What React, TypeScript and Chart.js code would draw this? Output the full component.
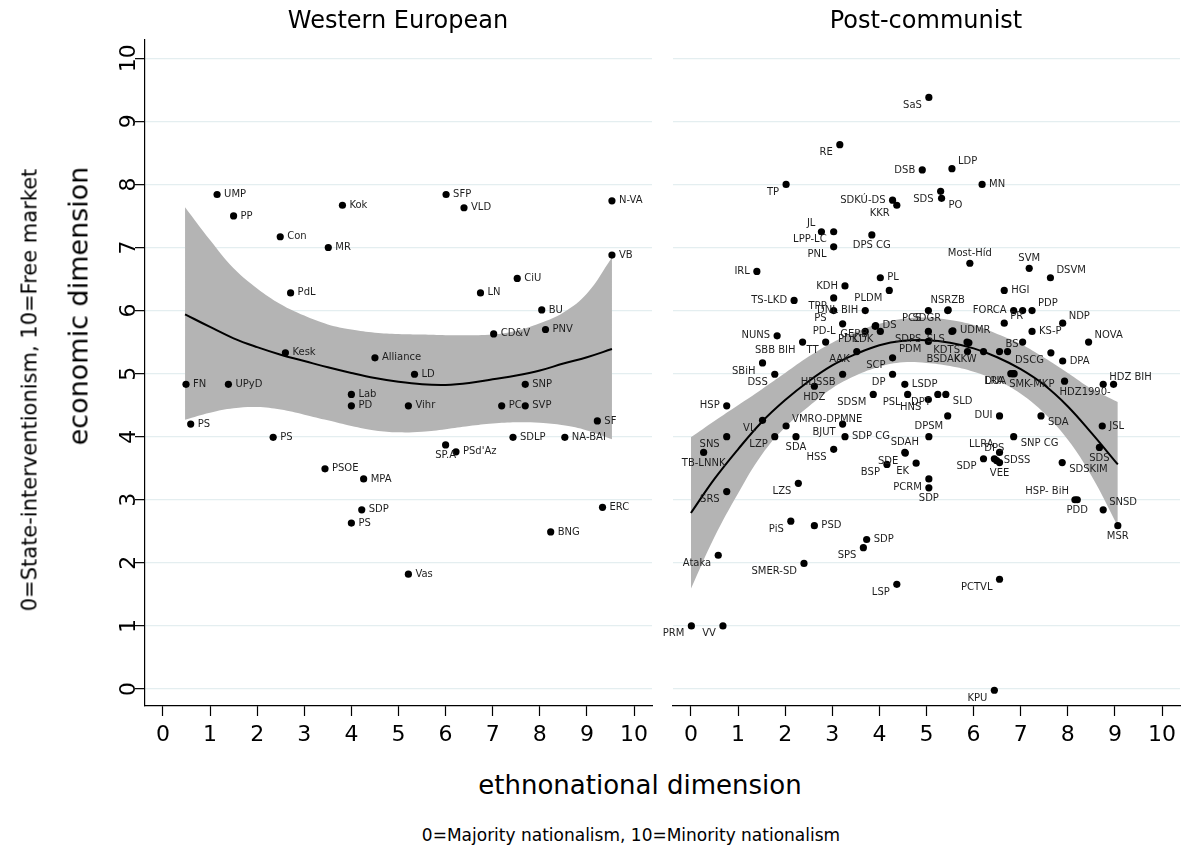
import React, { useEffect, useRef } from "react";
import { Chart, registerables } from "chart.js";

Chart.register(...registerables);

const FONT = "'DejaVu Sans', sans-serif";

// Axis ticks shared by both panels
const xTicks = [0, 1, 2, 3, 4, 5, 6, 7, 8, 9, 10];
const yTicks = [0, 1, 2, 3, 4, 5, 6, 7, 8, 9, 10];

// ---- Western European parties ----
const westNames = [
  "UMP", "PP", "Con", "Kok", "MR", "PdL", "Kesk", "Alliance", "FN", "UPyD",
  "Lab", "PD", "PS", "PS", "PSOE", "MPA", "SDP", "PS", "Vihr", "PC",
  "SVP", "SF", "SDLP", "NA-BAI", "SP.A", "PSd'Az", "ERC", "BNG", "Vas", "SFP",
  "VLD", "N-VA", "VB", "CiU", "LN", "BU", "CD&V", "PNV", "LD", "SNP",
];
const westX = [
  1.15, 1.5, 2.49, 3.81, 3.51, 2.71, 2.6, 4.5, 0.49, 1.39,
  4.0, 4.0, 0.59, 2.34, 3.44, 4.26, 4.22, 4.0, 5.21, 7.19,
  7.69, 9.22, 7.43, 8.53, 6.0, 6.22, 9.33, 8.23, 5.21, 6.01,
  6.39, 9.53, 9.53, 7.52, 6.74, 8.04, 7.02, 8.12, 5.34, 7.69,
];
const westY = [
  7.84, 7.5, 7.17, 7.67, 7.0, 6.28, 5.33, 5.25, 4.83, 4.83,
  4.67, 4.49, 4.2, 3.99, 3.49, 3.33, 2.84, 2.63, 4.49, 4.49,
  4.49, 4.25, 3.99, 3.99, 3.87, 3.76, 2.88, 2.49, 1.82, 7.84,
  7.63, 7.74, 6.88, 6.51, 6.28, 6.01, 5.63, 5.7, 4.99, 4.83,
];
// clock position of each label relative to its marker
const westLabelPos = [
  3, 3, 3, 3, 3, 3, 3, 3, 3, 3,
  3, 3, 3, 3, 3, 3, 3, 3, 3, 3,
  3, 3, 3, 3, 6, 3, 3, 3, 3, 3,
  3, 3, 3, 3, 3, 3, 3, 3, 3, 3,
];

// quadratic fit with 95% band, Western European
const westFitX = [0.47, 1.0, 1.5, 2.0, 2.5, 3.0, 3.5, 4.0, 4.5, 5.0, 5.5, 6.0, 6.5, 7.0, 7.5, 8.0, 8.5, 9.0, 9.53];
const westFit = [5.94, 5.74, 5.56, 5.42, 5.3, 5.2, 5.1, 5.01, 4.93, 4.87, 4.83, 4.82, 4.85, 4.91, 4.97, 5.05, 5.16, 5.26, 5.39];
const westUpper = [7.64, 7.12, 6.67, 6.35, 6.1, 5.92, 5.78, 5.7, 5.65, 5.63, 5.62, 5.61, 5.61, 5.62, 5.68, 5.8, 5.97, 6.27, 6.84];
const westLower = [4.27, 4.38, 4.45, 4.47, 4.43, 4.35, 4.26, 4.17, 4.1, 4.07, 4.08, 4.12, 4.17, 4.21, 4.23, 4.22, 4.18, 4.1, 3.96];

// ---- Post-communist parties ----
const eastNames = [
  "SaS", "RE", "DSB", "LDP", "MN", "TP", "SDKÚ-DS", "KKR", "SDS", "PO",
  "JL", "LPP-LC", "DPS CG", "PNL", "Most-Híd", "SVM", "DSVM", "IRL", "PL", "KDH",
  "PLDM", "HGI", "TS-LKD", "TPP", "DNL BIH", "PS", "NSRZB", "PCS", "FORCA", "",
  "PDP", "PR", "NDP", "KS-P", "PD-L", "GERB", "PDK", "DS", "LDK", "SDGR",
  "SDPS", "SLS", "UDMR", "PDM", "KDTS", "", "AAK", "SCP", "BSDAK", "KKW",
  "BS", "", "DSCG", "DPA", "", "NOVA", "LRA", "DUA", "SMK-MKP", "HDZ1990-",
  "HDZ BIH", "", "HDSSB", "HDZ", "DP", "LSDP", "SDSM", "PSL", "HNS", "DPT",
  "SLD", "", "DPSM", "DUI", "SDA", "JSL", "SDS", "VL", "VMRO-DPMNE", "BJUT",
  "SNS", "TB-LNNK", "LZP", "SDA", "SDP CG", "HSS", "HSP", "SBiH", "DSS", "NUNS",
  "SBB BIH", "TT", "SRS", "LZS", "PiS", "PSD", "SDP", "SPS", "Ataka", "SMER-SD",
  "LSP", "PRM", "VV", "KPU", "PCTVL", "SDAH", "SDE", "BSP", "EK", "PCRM",
  "SDP", "SDP", "LLRA", "DPS", "SDSS", "VEE", "SNP CG", "SDSKIM", "HSP- BiH", "PDD",
  "SNSD", "MSR",
];
const eastX = [
  5.05, 3.16, 4.91, 5.54, 6.18, 2.02, 4.28, 4.37, 5.3, 5.32,
  2.77, 3.03, 3.84, 3.03, 5.92, 7.18, 7.63, 1.4, 4.02, 3.27,
  4.21, 6.65, 2.19, 3.03, 3.7, 3.03, 5.45, 5.04, 6.85, 7.04,
  7.24, 6.65, 7.89, 7.24, 3.22, 3.91, 3.7, 3.92, 4.02, 5.46,
  5.04, 5.54, 5.56, 5.04, 5.86, 5.9, 3.52, 4.28, 5.87, 6.21,
  6.55, 6.72, 7.64, 7.89, 7.04, 8.44, 6.79, 6.84, 6.86, 7.93,
  8.75, 8.97, 3.22, 2.62, 4.28, 4.54, 3.87, 4.6, 5.04, 5.24,
  5.41, 5.45, 5.05, 6.55, 7.43, 8.73, 8.67, 1.52, 2.02, 3.22,
  0.76, 0.27, 1.78, 2.23, 3.27, 3.03, 0.76, 1.52, 1.78, 1.83,
  2.37, 2.86, 0.76, 2.28, 2.12, 2.62, 3.73, 3.66, 0.58, 2.4,
  4.37, 0.01, 0.68, 6.44, 6.55, 4.54, 4.55, 4.16, 4.78, 5.05,
  5.05, 6.21, 6.55, 6.44, 6.49, 6.55, 6.85, 7.88, 8.15, 8.2,
  8.75, 9.06,
];
const eastY = [
  9.38, 8.63, 8.23, 8.25, 8.0, 8.0, 7.75, 7.67, 7.89, 7.78,
  7.25, 7.25, 7.2, 7.01, 6.75, 6.67, 6.52, 6.62, 6.52, 6.39,
  6.32, 6.32, 6.16, 6.2, 6.0, 6.0, 6.0, 6.0, 6.0, 6.0,
  6.0, 5.8, 5.8, 5.67, 5.79, 5.75, 5.67, 5.76, 5.67, 6.01,
  5.67, 5.67, 5.68, 5.51, 5.5, 5.49, 5.35, 5.25, 5.35, 5.35,
  5.35, 5.35, 5.33, 5.2, 5.5, 5.5, 5.0, 5.0, 5.0, 4.88,
  4.83, 4.83, 4.99, 4.8, 4.99, 4.83, 4.67, 4.67, 4.59, 4.67,
  4.67, 4.33, 4.0, 4.33, 4.33, 4.17, 3.83, 4.26, 4.17, 4.2,
  4.0, 3.75, 4.0, 4.0, 4.0, 3.8, 4.49, 5.17, 4.99, 5.6,
  5.5, 5.5, 3.13, 3.26, 2.66, 2.59, 2.37, 2.24, 2.12, 1.99,
  1.66, 1.0, 1.0, -0.02, 1.74, 3.75, 3.74, 3.56, 3.58, 3.33,
  3.19, 3.65, 3.75, 3.65, 3.62, 3.59, 4.0, 3.59, 3.0, 3.0,
  2.84, 2.59,
];
const eastLabelPos = [
  7, 7, 9, 1, 3, 7, 9, 7, 7, 4,
  11, 7, 6, 7, 12, 12, 1, 9, 3, 9,
  7, 3, 9, 7, 9, 7, 12, 7, 9, 3,
  1, 1, 1, 3, 7, 7, 7, 3, 7, 7,
  7, 7, 3, 7, 7, 3, 7, 7, 7, 7,
  1, 3, 7, 3, 3, 1, 7, 7, 5, 5,
  1, 3, 7, 6, 7, 3, 7, 7, 7, 7,
  4, 3, 12, 9, 4, 3, 6, 7, 1, 7,
  7, 6, 7, 6, 3, 7, 9, 7, 7, 9,
  7, 7, 7, 7, 7, 3, 3, 7, 7, 7,
  7, 7, 7, 7, 7, 12, 7, 7, 7, 7,
  6, 7, 11, 12, 3, 6, 4, 4, 11, 6,
  1, 6,
];

// quadratic fit with 95% band, Post-communist
const eastFitX = [0.0, 0.5, 1.0, 1.5, 2.0, 2.5, 3.0, 3.5, 4.0, 4.5, 5.0, 5.5, 6.0, 6.5, 7.0, 7.5, 8.0, 8.5, 9.06];
const eastFit = [2.79, 3.33, 3.8, 4.23, 4.58, 4.88, 5.13, 5.31, 5.45, 5.52, 5.53, 5.49, 5.4, 5.26, 5.07, 4.82, 4.48, 4.06, 3.56];
const eastUpper = [3.99, 4.25, 4.5, 4.75, 5.01, 5.27, 5.49, 5.66, 5.79, 5.87, 5.89, 5.85, 5.77, 5.63, 5.47, 5.25, 5.01, 4.76, 4.55];
const eastLower = [1.59, 2.41, 3.1, 3.71, 4.15, 4.48, 4.77, 4.97, 5.11, 5.18, 5.17, 5.12, 5.03, 4.89, 4.68, 4.37, 3.95, 3.38, 2.58];

// label offsets (dx, dy, alignment) per clock position
const LABEL_OFFSETS: Record<number, [number, number, CanvasTextAlign]> = {
  1: [6, -7, "left"],
  3: [7, 0, "left"],
  4: [7, 7, "left"],
  5: [-5, 11, "left"],
  6: [0, 11, "center"],
  7: [-7, 8, "right"],
  9: [-7, 0, "right"],
  11: [-6, -8, "right"],
  12: [0, -10, "center"],
};

const GRID = "rgb(228,238,240)";
const BAND = "rgb(180,180,180)";

type Panel = {
  names: string[];
  xs: number[];
  ys: number[];
  pos: number[];
  fitX: number[];
  fit: number[];
  upper: number[];
  lower: number[];
};

const pairs = (xs: number[], ys: number[]) => xs.map((x, i) => ({ x, y: ys[i] }));

function makeChart(canvas: HTMLCanvasElement, p: Panel, withYAxis: boolean, axisWidth: number) {
  const labelPlugin = {
    id: "markerLabels",
    afterDatasetsDraw(chart: any) {
      const meta = chart.getDatasetMeta(0);
      const ctx = chart.ctx as CanvasRenderingContext2D;
      ctx.save();
      ctx.font = `10px ${FONT}`;
      ctx.fillStyle = "#1e1e1e";
      ctx.textBaseline = "middle";
      meta.data.forEach((el: any, i: number) => {
        const name = p.names[i];
        if (!name) return;
        const [dx, dy, align] = LABEL_OFFSETS[p.pos[i]] || LABEL_OFFSETS[3];
        ctx.textAlign = align;
        ctx.fillText(name, el.x + dx, el.y + dy);
      });
      ctx.restore();
    },
  };

  return new Chart(canvas, {
    type: "scatter",
    data: {
      datasets: [
        {
          type: "scatter",
          data: pairs(p.xs, p.ys),
          pointRadius: 3.6,
          pointBackgroundColor: "#000",
          pointBorderWidth: 0,
          order: 0,
        } as any,
        {
          type: "line",
          data: pairs(p.fitX, p.fit),
          borderColor: "#000",
          borderWidth: 2,
          pointRadius: 0,
          tension: 0.4,
          fill: false,
          order: 1,
        },
        {
          type: "line",
          data: pairs(p.fitX, p.upper),
          borderColor: "rgba(0,0,0,0)",
          borderWidth: 0,
          pointRadius: 0,
          tension: 0.4,
          fill: "+1",
          backgroundColor: BAND,
          order: 2,
        },
        {
          type: "line",
          data: pairs(p.fitX, p.lower),
          borderColor: "rgba(0,0,0,0)",
          borderWidth: 0,
          pointRadius: 0,
          tension: 0.4,
          fill: false,
          order: 3,
        },
      ],
    },
    options: {
      responsive: false,
      animation: false,
      events: [],
      layout: { padding: { top: 40, right: withYAxis ? 8 : 5, left: 0, bottom: 0 } },
      plugins: {
        legend: { display: false },
        tooltip: { enabled: false },
        title: { display: false },
      },
      scales: {
        x: {
          type: "linear",
          min: -0.38,
          max: 10.38,
          afterBuildTicks: (s: any) => {
            s.ticks = xTicks.map((v) => ({ value: v }));
          },
          afterFit: (s: any) => {
            s.height = 54;
          },
          ticks: {
            autoSkip: false,
            maxRotation: 0,
            padding: 6,
            color: "#000",
            font: { family: FONT, size: 22 },
          },
          grid: { drawOnChartArea: false, tickLength: 10, tickColor: "#000", tickWidth: 1.2 },
          border: { color: "#000", width: 1.2 },
        },
        y: {
          type: "linear",
          min: -0.27,
          max: 10.29,
          afterBuildTicks: (s: any) => {
            s.ticks = yTicks.map((v) => ({ value: v }));
          },
          afterFit: (s: any) => {
            s.width = axisWidth;
          },
          ticks: {
            display: withYAxis,
            minRotation: 90,
            maxRotation: 90,
            crossAlign: "center",
            padding: -8,
            color: "#000",
            font: { family: FONT, size: 22 },
          },
          grid: {
            color: GRID,
            lineWidth: 1.3,
            drawTicks: withYAxis,
            tickLength: 10,
            tickColor: "#000",
            tickWidth: 1.2,
          },
          border: { display: withYAxis, color: "#000", width: 1.2 },
        },
      },
    } as any,
    plugins: [labelPlugin],
  });
}

function Text({ x, y, size, rotate, children }: { x: number; y: number; size: number; rotate?: boolean; children: React.ReactNode }) {
  return (
    <div
      style={{
        position: "absolute",
        left: x,
        top: y,
        transform: `translate(-50%, -50%)${rotate ? " rotate(-90deg)" : ""}`,
        whiteSpace: "nowrap",
        fontFamily: FONT,
        fontSize: size,
        color: "#000",
        lineHeight: 1,
      }}
    >
      {children}
    </div>
  );
}

export default function App() {
  const westRef = useRef<HTMLCanvasElement>(null);
  const eastRef = useRef<HTMLCanvasElement>(null);

  useEffect(() => {
    const west = makeChart(
      westRef.current!,
      { names: westNames, xs: westX, ys: westY, pos: westLabelPos, fitX: westFitX, fit: westFit, upper: westUpper, lower: westLower },
      true,
      145
    );
    const east = makeChart(
      eastRef.current!,
      { names: eastNames, xs: eastX, ys: eastY, pos: eastLabelPos, fitX: eastFitX, fit: eastFit, upper: eastUpper, lower: eastLower },
      false,
      13
    );
    return () => {
      west.destroy();
      east.destroy();
    };
  }, []);

  return (
    <div style={{ position: "fixed", left: 0, top: 0, width: 1185, height: 851, background: "#fff", overflow: "hidden" }}>
      <canvas ref={westRef} width={660} height={760} style={{ position: "absolute", left: 0, top: 0 }} />
      <canvas ref={eastRef} width={525} height={760} style={{ position: "absolute", left: 660, top: 0 }} />
      <Text x={398} y={20} size={24}>Western European</Text>
      <Text x={926} y={20} size={24}>Post-communist</Text>
      <Text x={78} y={306} size={27} rotate>economic dimension</Text>
      <Text x={30} y={390} size={21} rotate>0=State-interventionism, 10=Free market</Text>
      <Text x={640} y={785} size={26}>ethnonational dimension</Text>
      <Text x={631} y={835} size={17}>0=Majority nationalism, 10=Minority nationalism</Text>
    </div>
  );
}
